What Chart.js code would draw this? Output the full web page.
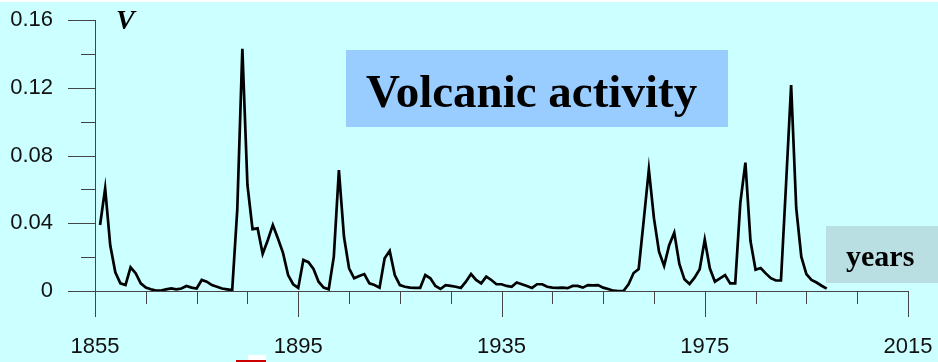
<!DOCTYPE html>
<html>
<head>
<meta charset="utf-8">
<script src="https://cdn.jsdelivr.net/npm/chart.js@4/dist/chart.umd.min.js"></script>
<style>
html,body{margin:0;padding:0;background:#fff;}
#wrap{width:938px;height:362px;}
</style>
</head>
<body>
<div id="wrap"><canvas id="c" width="938" height="362"></canvas></div>
<script>
// ---- data ----
const firstYear = 1856;
const volcanic = [
 0.039, 0.0606, 0.027, 0.011, 0.0045, 0.0035, 0.014, 0.0105, 0.0045, 0.002,
 0.001, 0.0002, 0.0002, 0.001, 0.0015, 0.001, 0.0015, 0.003, 0.002, 0.0015,
 0.0065, 0.0055, 0.0035, 0.0025, 0.0015, 0.001, 0.0005, 0.048, 0.143, 0.0626,
 0.0365, 0.037, 0.022, 0.030, 0.039, 0.031, 0.0225, 0.0094, 0.004, 0.0018,
 0.0183, 0.017, 0.013, 0.0055, 0.002, 0.001, 0.0203, 0.0714, 0.032, 0.0134,
 0.0075, 0.0089, 0.010, 0.0045, 0.0035, 0.002, 0.0193, 0.0237, 0.0094, 0.0035,
 0.0025, 0.002, 0.0019, 0.0019, 0.0094, 0.0075, 0.003, 0.0012, 0.0035, 0.003,
 0.0025, 0.0018, 0.0055, 0.010, 0.0065, 0.0045, 0.0085, 0.0065, 0.004, 0.004,
 0.003, 0.0025, 0.005, 0.004, 0.003, 0.0018, 0.004, 0.004, 0.0025, 0.002,
 0.0019, 0.002, 0.0017, 0.003, 0.003, 0.002, 0.0035, 0.0033, 0.0035, 0.002,
 0.0012, 0.0002, 0, 0, 0.004, 0.0106, 0.013, 0.042, 0.0718, 0.043,
 0.0232, 0.0148, 0.027, 0.0344, 0.016, 0.0069, 0.0041, 0.0079, 0.0128, 0.0303,
 0.0134, 0.0055, 0.0075, 0.0094, 0.0045, 0.0045, 0.052, 0.0758, 0.0295, 0.0126,
 0.0136, 0.0104, 0.0076, 0.0062, 0.0062, 0.063, 0.1216, 0.049, 0.0203, 0.010,
 0.0065, 0.005, 0.0031, 0.0014
];
const years = volcanic.map((v, i) => firstYear + i);
const xTickValues = [1855, 1865, 1875, 1885, 1895, 1905, 1915, 1925, 1935, 1945, 1955, 1965, 1975, 1985, 1995, 2005, 2015];
const xLabelYears = [1855, 1895, 1935, 1975, 2015];
const yTickValues = [0, 0.02, 0.04, 0.06, 0.08, 0.10, 0.12, 0.14, 0.16];
const yLabelValues = [0, 0.04, 0.08, 0.12, 0.16];
const titleText = 'Volcanic activity';
const yAxisTitle = 'V';
const xAxisTitle = 'years';

const isIn = (arr, v) => arr.some(a => Math.abs(a - v) < 1e-9);

const decor = {
  id: 'decor',
  beforeDraw(chart) {
    const ctx = chart.ctx;
    ctx.save();
    ctx.fillStyle = '#ffffff';
    ctx.fillRect(0, 0, chart.width, chart.height);
    ctx.fillStyle = '#ccffff';
    ctx.fillRect(0, 2, chart.width, chart.height - 2);
    // title box
    ctx.fillStyle = '#99ccff';
    ctx.fillRect(346, 50, 382, 77);
    // years box
    ctx.fillStyle = '#badfe2';
    ctx.fillRect(826, 226, 112, 57);
    ctx.restore();
  },
  afterDraw(chart) {
    const ctx = chart.ctx;
    const xs = chart.scales.x, ys = chart.scales.y;
    const x0 = xs.getPixelForValue(xTickValues[0]);
    const xEnd = xs.getPixelForValue(xTickValues[xTickValues.length - 1]);
    const y0 = ys.getPixelForValue(0);
    const yTop = ys.getPixelForValue(yTickValues[yTickValues.length - 1]);
    ctx.save();
    ctx.strokeStyle = '#454545';
    ctx.lineWidth = 1;
    ctx.beginPath();
    // y axis line
    ctx.moveTo(Math.round(x0) + 0.5, yTop);
    ctx.lineTo(Math.round(x0) + 0.5, y0 + 26);
    // x axis line
    ctx.moveTo(x0 - 27, Math.round(y0) + 0.5);
    ctx.lineTo(xEnd + 0.5, Math.round(y0) + 0.5);
    // x ticks
    xTickValues.forEach(v => {
      const px = Math.round(xs.getPixelForValue(v)) + 0.5;
      const len = isIn(xLabelYears, v) ? 26 : 13;
      ctx.moveTo(px, y0);
      ctx.lineTo(px, y0 + len);
    });
    // y ticks
    yTickValues.forEach(v => {
      const py = Math.round(ys.getPixelForValue(v)) + 0.5;
      const len = isIn(yLabelValues, v) ? 27 : 14;
      ctx.moveTo(x0 - len, py);
      ctx.lineTo(x0, py);
    });
    ctx.stroke();

    // texts
    ctx.fillStyle = '#000';
    ctx.textBaseline = 'alphabetic';
    ctx.textAlign = 'left';
    ctx.font = 'bold italic 28px "Liberation Serif", "Times New Roman", serif';
    ctx.fillText(yAxisTitle, 116, 29);
    ctx.font = 'bold 47px "Liberation Serif", "Times New Roman", serif';
    ctx.fillText(titleText, 366, 107);
    ctx.font = 'bold 30px "Liberation Serif", "Times New Roman", serif';
    ctx.fillText(xAxisTitle, 846, 266);

    // small stray mark at bottom
    ctx.fillStyle = '#ffffff';
    ctx.fillRect(248, 355, 18, 7);
    ctx.fillStyle = '#cc0000';
    ctx.fillRect(236, 360, 30, 2);
    ctx.restore();
  }
};

const tickFont = { family: '"Liberation Sans", Arial, sans-serif', size: 22 };

new Chart(document.getElementById('c'), {
  type: 'line',
  data: {
    datasets: [{
      data: years.map((y, i) => ({ x: y, y: volcanic[i] })),
      borderColor: '#000000',
      borderWidth: 2.7,
      pointRadius: 0,
      tension: 0,
      fill: false,
      borderJoinStyle: 'miter'
    }]
  },
  options: {
    responsive: false,
    animation: false,
    devicePixelRatio: 1,
    layout: { padding: { left: 0, right: 30, top: 20, bottom: 0 } },
    plugins: { legend: { display: false }, tooltip: { enabled: false } },
    scales: {
      x: {
        type: 'linear',
        min: 1855, max: 2015,
        afterBuildTicks: s => { s.ticks = xTickValues.map(v => ({ value: v })); },
        afterFit: s => { s.height = 71; s.paddingLeft = 0; s.paddingRight = 0; },
        grid: { display: false, drawTicks: false },
        border: { display: false },
        ticks: {
          autoSkip: false, maxRotation: 0, padding: 43,
          color: '#111', font: tickFont,
          callback: v => isIn(xLabelYears, v) ? String(v) : ''
        }
      },
      y: {
        type: 'linear',
        min: 0, max: 0.16,
        afterBuildTicks: s => { s.ticks = yTickValues.map(v => ({ value: v })); },
        afterFit: s => { s.width = 95; s.paddingTop = 0; s.paddingBottom = 0; },
        grid: { display: false, drawTicks: false },
        border: { display: false },
        ticks: {
          autoSkip: false, padding: 42,
          color: '#111', font: tickFont,
          callback: v => isIn(yLabelValues, v) ? (v === 0 ? '0' : v.toFixed(2)) : ''
        }
      }
    }
  },
  plugins: [decor]
});
</script>
</body>
</html>
